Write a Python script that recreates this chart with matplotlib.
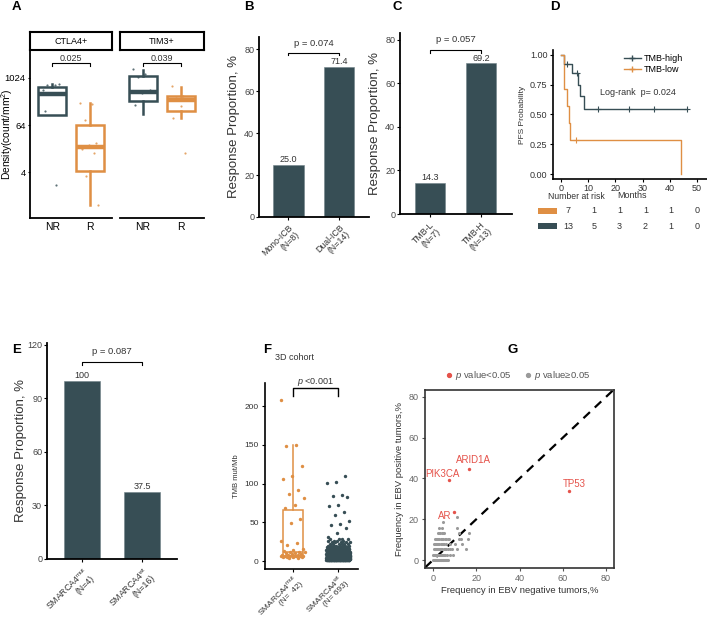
import numpy as np
import matplotlib
matplotlib.use("Agg")
import matplotlib.pyplot as plt
from matplotlib.lines import Line2D
from matplotlib.patches import Rectangle

plt.rcParams['font.family'] = ['Liberation Sans', 'DejaVu Sans']
plt.rcParams['mathtext.fontset'] = 'custom'
plt.rcParams['mathtext.rm'] = 'Liberation Sans'
plt.rcParams['mathtext.it'] = 'Liberation Sans:italic'
plt.rcParams['mathtext.bf'] = 'Liberation Sans:bold'

# ---------------- data ----------------
# A: density (log2 count/mm^2)
a_facets = ['CTLA4+', 'TIM3+']
a_groups = ['NR', 'R']
a_box_stats = {  # whislo, q1, med, q3, whishi
    'CTLA4+': [[6.85, 6.85, 8.64, 9.23, 9.45], [-0.8, 2.1, 4.1, 6.0, 7.9]],
    'TIM3+': [[6.9, 8.0, 8.8, 10.2, 10.7], [6.6, 7.2, 8.1, 8.5, 9.2]],
}
a_points = {
    'CTLA4+': [[9.0, 9.4, 9.4, 9.5, 8.6, 7.2, 0.9],
               [7.85, 7.8, 6.4, 4.5, 4.3, 4.0, 3.6, 1.7, -0.8]],
    'TIM3+': [[10.8, 10.3, 10.1, 9.0, 8.7, 7.7],
              [9.3, 8.5, 8.3, 8.1, 7.6, 6.6, 3.6]],
}
a_pvalues = ['0.025', '0.039']
a_yticks_log2 = [2, 6, 10]
a_yticklabels = ['4', '64', '1024']

# B
b_categories = ['Mono-ICB\n(N=8)', 'Dual-ICB\n(N=14)']
b_values = [25.0, 71.4]
b_p = 'p = 0.074'
# C
c_categories = ['TMB-L\n(N=7)', 'TMB-H\n(N=13)']
c_values = [14.3, 69.2]
c_p = 'p = 0.057'
# D (Kaplan-Meier)
km_high_t = [0, 1.2, 4.2, 6.1, 6.9, 8.3, 46.3]
km_high_s = [1.0, 0.923, 0.846, 0.748, 0.654, 0.545, 0.545]
km_high_cens_t = [2.1, 5.9, 13.7, 25.1, 34.3, 46.3]
km_high_cens_s = [0.923, 0.846, 0.545, 0.545, 0.545, 0.545]
km_low_t = [0, 1.2, 2.3, 2.9, 3.3, 44.1]
km_low_s = [1.0, 0.714, 0.571, 0.429, 0.286, 0.0]
km_low_cens_t = [5.6]
km_low_cens_s = [0.286]
km_logrank = 'Log-rank  p= 0.024'
risk_low = [7, 1, 1, 1, 1, 0]
risk_high = [13, 5, 3, 2, 1, 0]
# E
e_categories = ['SMARCA4$^{\\mathrm{mut}}$\n(N=4)', 'SMARCA4$^{\\mathrm{wt}}$\n(N=16)']
e_values = [100, 37.5]
e_p = 'p = 0.087'
# F
f_categories = ['SMARCA4$^{\\mathrm{mut}}$\n(N=  42)', 'SMARCA4$^{\\mathrm{wt}}$\n(N= 693)']
f_mut_tmb = [208, 150, 148, 122, 110, 106, 92, 87, 81, 72, 69, 54, 49, 26, 23, 21,
             15, 14, 13, 12, 12, 11, 10, 10, 9, 9, 8, 8, 8, 7, 7, 7, 6, 6, 6, 6,
             5, 5, 5, 5, 4, 4]
f_wt_high = [110, 102, 101, 85, 84, 83, 72, 71, 63, 59, 51, 48, 46, 42, 36, 31, 29]
f_wt_levels = [1, 2, 3, 4, 5, 6, 7, 8, 9, 10, 11, 12, 13, 14, 15, 16, 18, 20, 22, 24, 26, 28]
f_wt_counts = [55, 70, 70, 65, 60, 55, 48, 42, 36, 30, 26, 22, 19, 16, 14, 12, 10, 8, 6, 5, 4, 3]
f_p = '$p$ <0.001'
# G
g_sig_genes = ['ARID1A', 'PIK3CA', 'TP53', 'AR']
g_sig_neg = [16.7, 7.4, 63.0, 9.7]
g_sig_pos = [44.5, 39.4, 34.0, 23.7]
g_ns_rows = {  # EBV-positive freq : EBV-negative freqs
    0.0: [0.2, 0.5, 0.8, 1.1, 1.4, 1.7, 2.0, 2.3, 2.6, 2.9, 3.2, 3.5, 3.8, 4.1, 4.4, 4.8, 5.2, 5.6, 6.0, 6.5, 7.0],
    2.63: [0.2, 0.5, 0.8, 1.1, 1.4, 1.7, 2.0, 2.4, 2.8, 3.2, 3.6, 4.0, 4.5, 5.0, 5.6, 6.3, 8.0, 9.4],
    5.26: [0.3, 0.7, 1.1, 1.5, 1.9, 2.3, 2.8, 3.3, 3.8, 4.3, 4.9, 5.5, 6.2, 7.0, 7.8, 8.6, 11.2, 15.1],
    7.89: [0.5, 1.0, 1.5, 2.0, 2.5, 3.0, 3.5, 4.0, 4.6, 5.2, 5.8, 8.0, 10.2, 13.3],
    10.53: [1.0, 1.5, 2.0, 2.5, 3.0, 3.6, 4.2, 4.8, 5.4, 6.0, 6.8, 7.6, 11.8, 13.0, 16.4],
    13.16: [2.2, 2.8, 3.4, 4.0, 4.6, 5.2, 11.8, 16.8],
    15.79: [3.0, 4.0, 11.2],
    18.42: [4.6],
    21.05: [10.9],
}

# ---------------- styling ----------------
W, H = 707, 621
fig = plt.figure(figsize=(W / 100, H / 100), dpi=100)
DARK = '#374E55'
ORANGE = '#DF8F44'
RED = '#E5534B'
GRAY = '#9A9A9A'
TXT = '#333333'


def axpx(x0, y0, x1, y1):
    return fig.add_axes([x0 / W, 1 - y1 / H, (x1 - x0) / W, (y1 - y0) / H])


def ftext(x, y, s, **kw):
    fig.text(x / W, 1 - y / H, s, **kw)


def jitter(n, width):
    return ((np.arange(n) * 0.6180339887) % 1.0 - 0.5) * width


for lab, (x, y) in zip('ABCDEFG', [(16, 7), (249, 7), (397, 7), (555, 7),
                                   (17, 350), (267, 350), (513, 350)]):
    ftext(x, y, lab, fontsize=9.5, fontweight='bold', ha='center', va='center')

# ---------------- A ----------------
a_cols = [DARK, ORANGE]
for i, facet in enumerate(a_facets):
    x0, x1 = [(30, 112), (120, 204)][i]
    ax = axpx(x0, 50, x1, 218)
    ax.set_xlim(0.4, 2.6)
    ax.set_ylim(-1.91, 12.38)
    for j, st in enumerate(a_box_stats[facet]):
        stats = [dict(whislo=st[0], q1=st[1], med=st[2], q3=st[3], whishi=st[4], fliers=[])]
        c = a_cols[j]
        ax.bxp(stats, positions=[j + 1], widths=0.75, showcaps=False, showfliers=False,
               patch_artist=True,
               boxprops=dict(facecolor='white', edgecolor=c, linewidth=1.8),
               medianprops=dict(color=c, linewidth=3.2),
               whiskerprops=dict(color=c, linewidth=1.8))
        pts = a_points[facet][j]
        ax.scatter(j + 1 + jitter(len(pts), 0.5), pts, s=2.5, color=c, alpha=0.8,
                   zorder=5, linewidths=0)
    ax.plot([1, 1, 2, 2], [11.0, 11.28, 11.28, 11.0], color='black', lw=0.8)
    ax.text(1.5, 11.65, a_pvalues[i], ha='center', va='center', fontsize=6.5, color=TXT)
    ax.set_xticks([1, 2])
    ax.set_xticklabels(a_groups, fontsize=7.5)
    ax.tick_params(axis='x', length=0, pad=3)
    for s in ['top', 'right']:
        ax.spines[s].set_visible(False)
    ax.spines['bottom'].set_linewidth(1.3)
    if i == 0:
        ax.spines['left'].set_linewidth(1.3)
        ax.set_yticks(a_yticks_log2)
        ax.set_yticklabels(a_yticklabels, fontsize=6.8)
        ax.tick_params(axis='y', length=1.5, pad=1.5)
    else:
        ax.spines['left'].set_visible(False)
        ax.set_yticks([])
    st_ax = axpx(x0, 32, x1, 50)
    st_ax.set_xticks([]); st_ax.set_yticks([])
    for s in st_ax.spines.values():
        s.set_linewidth(1.5)
    st_ax.text(0.5, 0.5, facet, ha='center', va='center', fontsize=6.5, transform=st_ax.transAxes)
ftext(7.5, 134, 'Density(count/mm$^2$)', rotation=90, ha='center', va='center', fontsize=7.4)


# ---------------- bar panels ----------------
def bar_panel(box, xlim, ylim, yticks, cats, vals, ptxt, br_y, br_tick, p_y, fmt, ylab_x):
    ax = axpx(*box)
    x = np.arange(len(vals))
    ax.bar(x, vals, width=0.6, color=DARK, edgecolor='#6f8187', linewidth=0.4)
    for xi, v in zip(x, vals):
        ax.text(xi, v + ylim[1] * 0.005, fmt(v), ha='center', va='bottom', fontsize=6.5, color=TXT)
    ax.plot([0, 0, 1, 1], [br_y - br_tick, br_y, br_y, br_y - br_tick], color='black', lw=0.8,
            clip_on=False)
    ax.text(0.5, p_y, ptxt, ha='center', va='center', fontsize=6.8, color=TXT)
    ax.set_xlim(*xlim)
    ax.set_ylim(*ylim)
    ax.set_yticks(yticks)
    ax.tick_params(axis='y', labelsize=6.5, labelcolor='#444444', length=2, pad=1.5)
    ax.set_xticks(x)
    ax.set_xticklabels(cats, rotation=45, ha='right', rotation_mode='anchor', fontsize=6.3,
                       color=TXT, linespacing=1.0)
    ax.tick_params(axis='x', length=2.5, pad=2)
    for s in ['top', 'right']:
        ax.spines[s].set_visible(False)
    for s in ['left', 'bottom']:
        ax.spines[s].set_linewidth(1.3)
    ax.set_ylabel('Response Proportion, %', fontsize=9.5, color=TXT)
    ax.yaxis.set_label_coords((ylab_x - box[0]) / (box[2] - box[0]), 0.5)
    return ax


bar_panel((259, 37, 369, 217), (-0.584, 1.594), (0, 85.8), [0, 20, 40, 60, 80],
          b_categories, b_values, b_p, 78.2, 1.2, 82.8, lambda v: f'{v:.1f}', 240)
bar_panel((400, 33, 512, 214), (-0.588, 1.608), (0, 83.2), [0, 20, 40, 60, 80],
          c_categories, c_values, c_p, 75.4, 1.4, 80.2, lambda v: f'{v:.1f}', 381)
bar_panel((47, 343, 177, 559), (-0.583, 1.583), (0, 121.1), [0, 30, 60, 90, 120],
          e_categories, e_values, e_p, 110.5, 1.8, 116.3, lambda v: f'{v:g}', 27)

# ---------------- D ----------------
ax = axpx(553, 50, 707, 179)
ax.step(km_high_t, km_high_s, where='post', color=DARK, lw=1.0)
ax.step(km_low_t, km_low_s, where='post', color=ORANGE, lw=1.0)
ax.plot(km_high_cens_t, km_high_cens_s, '+', color=DARK, ms=4, mew=0.8)
ax.plot(km_low_cens_t, km_low_cens_s, '+', color=ORANGE, ms=4, mew=0.8)
ax.set_xlim(-2.94, 53.7)
ax.set_ylim(-0.042, 1.042)
ax.set_xticks([0, 10, 20, 30, 40, 50])
ax.set_yticks([0, 0.25, 0.5, 0.75, 1.0])
ax.set_yticklabels(['0.00', '0.25', '0.50', '0.75', '1.00'])
ax.tick_params(labelsize=6.5, length=2.5, pad=1.5, labelcolor=TXT)
ax.tick_params(axis='x', pad=0.8)
for s in ['top', 'right']:
    ax.spines[s].set_visible(False)
for s in ['left', 'bottom']:
    ax.spines[s].set_linewidth(1.2)
ax.set_ylabel('PFS Probability', fontsize=6, color=TXT, labelpad=3)
ax.set_xlabel('Months', fontsize=6.5, color=TXT, labelpad=1)
ax.xaxis.set_label_coords(0.51, -0.095)
handles = [Line2D([], [], color=DARK, marker='+', ms=4, lw=1.0),
           Line2D([], [], color=ORANGE, marker='+', ms=4, lw=1.0)]
ax.legend(handles, ['TMB-high', 'TMB-low'], loc='upper left', bbox_to_anchor=(0.46, 0.97),
          frameon=False, fontsize=6.5, handlelength=1.9, handletextpad=0.3,
          labelspacing=0.25, borderpad=0, borderaxespad=0)
ax.text(0.305, 0.674, km_logrank, transform=ax.transAxes, fontsize=6.5, va='center', color=TXT)
ftext(548, 196, 'Number at risk', fontsize=6.2, va='center', color=TXT)

rax = axpx(530, 203, 707, 234)
rax.set_xlim(-1.473, 5.388)
rax.set_ylim(1.533, -0.533)
rax.axis('off')
for r, (vals, col) in enumerate([(risk_low, ORANGE), (risk_high, DARK)]):
    rax.add_patch(Rectangle((-1.163, r - 0.2), 0.737, 0.4, color=col, lw=0))
    for j, v in enumerate(vals):
        rax.text(j, r, str(v), ha='center', va='center', fontsize=6.5, color=TXT)

# ---------------- F ----------------
ax = axpx(265, 383, 358, 569)
ax.set_xlim(-0.62, 1.44)
ax.set_ylim(-10.3, 229.7)
ax.boxplot(f_mut_tmb, positions=[0], widths=0.44, showfliers=False, showcaps=False,
           whis=1.5, patch_artist=True,
           boxprops=dict(facecolor='none', edgecolor=ORANGE, linewidth=1.1),
           medianprops=dict(color=ORANGE, linewidth=1.1),
           whiskerprops=dict(color=ORANGE, linewidth=1.1))
ax.scatter(jitter(len(f_mut_tmb), 0.55), f_mut_tmb, s=6, color=ORANGE, linewidths=0, zorder=4)
wt_all = np.concatenate([np.repeat(f_wt_levels, f_wt_counts), f_wt_high])
ax.scatter(1 + jitter(len(wt_all), 0.52), wt_all, s=6, color=DARK, linewidths=0, zorder=4)
ax.plot([0, 0, 1, 1], [213, 223, 223, 213], color='black', lw=1.0, clip_on=False)
ax.text(0.5, 231, f_p, ha='center', va='center', fontsize=6.5, color=TXT, clip_on=False)
ax.set_xticks([0, 1])
ax.set_xticklabels(f_categories, rotation=45, ha='right', rotation_mode='anchor', fontsize=5.4,
                   color=TXT, linespacing=0.9)
ax.set_yticks([0, 50, 100, 150, 200])
ax.tick_params(labelsize=6, length=2.5, pad=2, labelcolor=TXT)
ax.tick_params(axis='x', pad=0.6)
for s in ['top', 'right']:
    ax.spines[s].set_visible(False)
for s in ['left', 'bottom']:
    ax.spines[s].set_linewidth(1.2)
ax.set_ylabel('TMB mut/Mb', fontsize=5.5, color=TXT, labelpad=3)
ftext(275, 357, '3D cohort', fontsize=6.5, va='center', color=TXT)

# ---------------- G ----------------
ax = axpx(425, 390, 614, 568)
ax.set_xlim(-3.7, 83.7)
ax.set_ylim(-3.9, 83.4)
ns_pos, ns_neg = [], []
for pos, negs in g_ns_rows.items():
    for n in negs:
        ns_pos.append(pos)
        ns_neg.append(n)
ax.scatter(ns_neg, ns_pos, s=5, color=GRAY, linewidths=0, zorder=3)
ax.scatter(g_sig_neg, g_sig_pos, s=6, color=RED, linewidths=0, zorder=4)
ax.axline((0, 0), slope=1, color='black', lw=1.6, dashes=(4, 3), zorder=2)
g_offsets = {'ARID1A': (3, 7), 'PIK3CA': (-5, 4), 'TP53': (4, 5), 'AR': (-7, -3)}
for g, xn, yp in zip(g_sig_genes, g_sig_neg, g_sig_pos):
    ax.annotate(g, (xn, yp), xytext=g_offsets[g], textcoords='offset points',
                ha='center', va='center', fontsize=7, color=RED)
ax.set_xticks([0, 20, 40, 60, 80])
ax.set_yticks([0, 20, 40, 60, 80])
ax.tick_params(labelsize=6.5, labelcolor='#666666', length=2.5, pad=2, color='#555555')
for s in ax.spines.values():
    s.set_linewidth(1.2)
    s.set_color('#333333')
ax.set_xlabel('Frequency in EBV negative tumors,%', fontsize=6.8, color=TXT, labelpad=2)
ax.set_ylabel('Frequency in EBV positive tumors,%', fontsize=6.8, color=TXT, labelpad=3)
lh = [Line2D([], [], marker='o', ls='', color=RED, ms=2.8),
      Line2D([], [], marker='o', ls='', color=GRAY, ms=2.8)]
ax.legend(lh, ['$p$ value<0.05', '$p$ value≥0.05'], loc='center left',
          bbox_to_anchor=(0.1, 1.08), ncol=2, frameon=False, fontsize=6.8,
          handletextpad=0.2, columnspacing=1.2, borderpad=0, borderaxespad=0,
          handlelength=1.0, labelcolor='#555555')

fig.savefig('out.png', dpi=100)
